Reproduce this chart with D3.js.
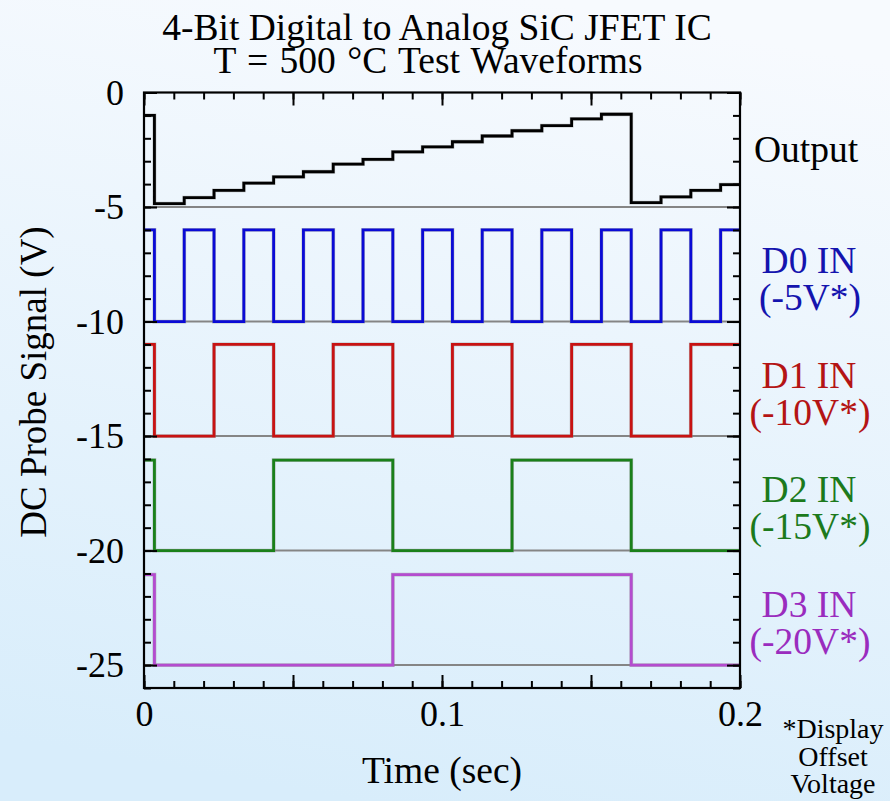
<!DOCTYPE html>
<html>
<head>
<meta charset="utf-8">
<script src="https://cdn.jsdelivr.net/npm/d3@7"></script>
<style>
  body { margin: 0; }
  svg text { font-family: "Liberation Serif", "Times New Roman", serif; }
</style>
</head>
<body>
<svg id="chart" width="890" height="801"></svg>
<script>
// edge times (sec) where the counter changes state
const edgeTimes = [0, 0.0035, 0.0135, 0.0235, 0.0335, 0.0435, 0.0535, 0.0635, 0.0735, 0.0835,
  0.0935, 0.1035, 0.1135, 0.1235, 0.1335, 0.1435, 0.1535, 0.1635, 0.1735, 0.1835, 0.1935, 0.2];

// analog output level in each interval (V)
const outputLevels = [-1.0, -4.85, -4.59, -4.27, -3.96, -3.68, -3.46, -3.13, -2.92, -2.59, -2.37,
  -2.15, -1.90, -1.67, -1.45, -1.15, -0.95, -4.81, -4.56, -4.27, -4.02];

// digital input states per interval (1 = high)
const d0States = [1, 0, 1, 0, 1, 0, 1, 0, 1, 0, 1, 0, 1, 0, 1, 0, 1, 0, 1, 0, 1];
const d1States = [1, 0, 0, 1, 1, 0, 0, 1, 1, 0, 0, 1, 1, 0, 0, 1, 1, 0, 0, 1, 1];
const d2States = [1, 0, 0, 0, 0, 1, 1, 1, 1, 0, 0, 0, 0, 1, 1, 1, 1, 0, 0, 0, 0];
const d3States = [1, 0, 0, 0, 0, 0, 0, 0, 0, 1, 1, 1, 1, 1, 1, 1, 1, 0, 0, 0, 0];

// displayed high / low levels of each input (after display offset)
const inputHigh = [-6.0, -11.0, -16.05, -21.05];
const inputLow = [-10.0, -15.0, -20.0, -25.0];
const inputOffsets = [-5, -10, -15, -20];
const inputNames = ["D0 IN", "D1 IN", "D2 IN", "D3 IN"];
const inputOffsetLabels = ["(-5V*)", "(-10V*)", "(-15V*)", "(-20V*)"];
const traceColors = ["#0a0ad6", "#c81212", "#1a801a", "#b44ccf"];
const labelColors = ["#1414ae", "#b41414", "#1c7a1c", "#9a2cbe"];

const baselines = [-5, -10, -15, -20, -25];
const xTickLabels = [0, 0.1, 0.2];
const yTickLabels = [0, -5, -10, -15, -20, -25];

const svg = d3.select("#chart");
const W = 890, H = 801;

// background gradient
const defs = svg.append("defs");
const grad = defs.append("linearGradient").attr("id", "bg")
  .attr("x1", "0.6").attr("y1", "0").attr("x2", "0.4").attr("y2", "1");
grad.append("stop").attr("offset", "0%").attr("stop-color", "#f7fafe");
grad.append("stop").attr("offset", "100%").attr("stop-color", "#d8edfb");
svg.append("rect").attr("width", W).attr("height", H).attr("fill", "url(#bg)");

const plotL = 144, plotR = 740, plotT = 92.5, plotB = 688;
const x = d3.scaleLinear().domain([0, 0.2]).range([plotL, plotR]);
const y = d3.scaleLinear().domain([0, -26]).range([plotT, plotB]);

// title
svg.append("text").attr("x", 437).attr("y", 39.5).attr("text-anchor", "middle")
  .attr("font-size", 37.5).text("4-Bit Digital to Analog SiC JFET IC");
svg.append("text").attr("x", 428).attr("y", 72.5).attr("text-anchor", "middle")
  .attr("font-size", 37.5).attr("word-spacing", 2).text("T = 500 °C Test Waveforms");

// gray reference lines
svg.append("g").selectAll("line").data(baselines).join("line")
  .attr("x1", plotL).attr("x2", plotR)
  .attr("y1", d => y(d)).attr("y2", d => y(d))
  .attr("stroke", "#858585").attr("stroke-width", 2);

const line = d3.line().curve(d3.curveStepAfter).x(d => x(d[0])).y(d => y(d[1]));

function series(levels) {
  const pts = levels.map((v, i) => [edgeTimes[i], v]);
  pts.push([edgeTimes[edgeTimes.length - 1], levels[levels.length - 1]]);
  return pts;
}

const traces = [
  { pts: series(outputLevels), color: "#000" },
  ...[d0States, d1States, d2States, d3States].map((s, k) => ({
    pts: series(s.map(b => b ? inputHigh[k] : inputLow[k])),
    color: traceColors[k]
  }))
];

const tg = svg.append("g");
traces.forEach(t => {
  tg.append("path").attr("d", line(t.pts)).attr("fill", "none")
    .attr("stroke", "#8a8a8a").attr("stroke-opacity", 0.5).attr("stroke-width", 3.8);
  tg.append("path").attr("d", line(t.pts)).attr("fill", "none")
    .attr("stroke", t.color).attr("stroke-width", 2.8);
});

// axes: inward ticks, minor + major, plus labels
function styleAxis(g) {
  g.select(".domain").remove();
  g.selectAll("line").attr("stroke", "#000").attr("stroke-width", 2);
  g.selectAll("text").attr("font-family", "Liberation Serif, serif").attr("font-size", 36).attr("fill", "#000");
}
const noLabel = () => "";
const plain = d => String(d);

svg.append("g").attr("transform", `translate(0,${plotB})`)
  .call(d3.axisBottom(x).ticks(20).tickSize(-7).tickFormat(noLabel)).call(styleAxis);
svg.append("g").attr("transform", `translate(0,${plotB})`)
  .call(d3.axisBottom(x).ticks(4).tickSize(-13).tickFormat(noLabel)).call(styleAxis);
svg.append("g").attr("transform", `translate(0,${plotB})`)
  .call(d3.axisBottom(x).tickValues(xTickLabels).tickSize(0).tickPadding(12).tickFormat(plain)).call(styleAxis);

svg.append("g").attr("transform", `translate(0,${plotT})`)
  .call(d3.axisTop(x).ticks(20).tickSize(-7).tickFormat(noLabel)).call(styleAxis);
svg.append("g").attr("transform", `translate(0,${plotT})`)
  .call(d3.axisTop(x).ticks(4).tickSize(-13).tickFormat(noLabel)).call(styleAxis);

svg.append("g").attr("transform", `translate(${plotL},0)`)
  .call(d3.axisLeft(y).ticks(26).tickSize(-7).tickFormat(noLabel)).call(styleAxis);
svg.append("g").attr("transform", `translate(${plotL},0)`)
  .call(d3.axisLeft(y).ticks(5).tickSize(-13).tickFormat(noLabel)).call(styleAxis);
svg.append("g").attr("transform", `translate(${plotL},0)`)
  .call(d3.axisLeft(y).tickValues(yTickLabels).tickSize(0).tickPadding(20).tickFormat(plain)).call(styleAxis);

svg.append("g").attr("transform", `translate(${plotR},0)`)
  .call(d3.axisRight(y).ticks(26).tickSize(-7).tickFormat(noLabel)).call(styleAxis);
svg.append("g").attr("transform", `translate(${plotR},0)`)
  .call(d3.axisRight(y).ticks(5).tickSize(-13).tickFormat(noLabel)).call(styleAxis);

// frame
svg.append("rect").attr("x", plotL).attr("y", plotT)
  .attr("width", plotR - plotL).attr("height", plotB - plotT)
  .attr("fill", "none").attr("stroke", "#000").attr("stroke-width", 2.2);

// axis titles
svg.append("text").attr("x", 442).attr("y", 783).attr("text-anchor", "middle")
  .attr("font-size", 37.5).text("Time (sec)");
svg.append("text").attr("transform", "translate(46,382) rotate(-90)")
  .attr("text-anchor", "middle").attr("font-size", 37).text("DC Probe Signal (V)");

// channel labels
svg.append("text").attr("x", 806).attr("y", y(-3.05)).attr("text-anchor", "middle")
  .attr("font-size", 37.5).text("Output");
const lab = svg.append("g").selectAll("g").data(inputNames).join("g");
lab.append("text").attr("x", 809).attr("y", (d, i) => y(inputOffsets[i] - 2.9))
  .attr("text-anchor", "middle").attr("font-size", 37.5)
  .attr("fill", (d, i) => labelColors[i]).text(d => d);
lab.append("text").attr("x", 810).attr("y", (d, i) => y(inputOffsets[i] - 2.9) + 37)
  .attr("text-anchor", "middle").attr("font-size", 37.5)
  .attr("fill", (d, i) => labelColors[i]).text((d, i) => inputOffsetLabels[i]);

// footnote
const foot = ["*Display", "Offset", "Voltage"];
svg.append("g").selectAll("text").data(foot).join("text")
  .attr("x", 833).attr("y", (d, i) => 738 + i * 27.5)
  .attr("text-anchor", "middle").attr("font-size", 28).text(d => d);
</script>
</body>
</html>
